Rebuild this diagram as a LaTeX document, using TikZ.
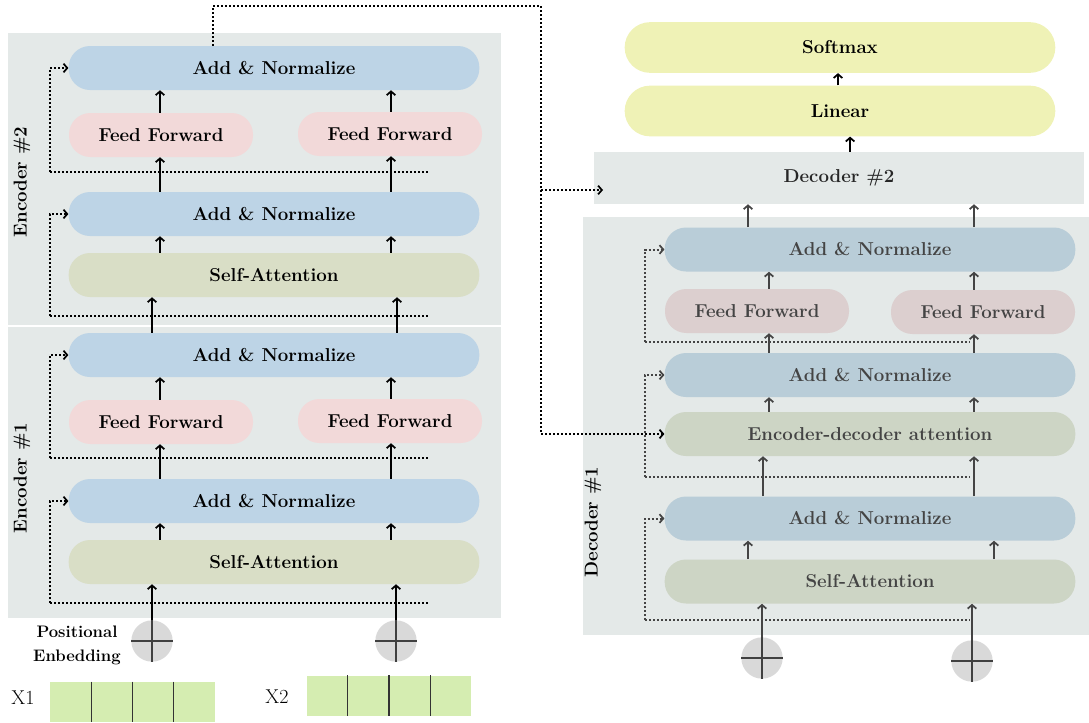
\documentclass[tikz,border=0pt]{standalone}
\usepackage{tikz}
\usetikzlibrary{arrows.meta, calc}
\definecolor{panelgray}{RGB}{228,233,232}
\definecolor{encblue}{RGB}{189,212,230}
\definecolor{encpink}{RGB}{242,217,217}
\definecolor{encgreen}{RGB}{217,222,198}
\definecolor{decblue}{RGB}{185,205,216}
\definecolor{decpink}{RGB}{220,207,207}
\definecolor{decgreen}{RGB}{205,213,197}
\definecolor{outyellow}{RGB}{239,242,182}
\definecolor{ingreen}{RGB}{213,237,177}
\definecolor{plusgray}{RGB}{217,217,217}
\definecolor{dectext}{RGB}{68,68,68}

\tikzset{
  blk/.style={rounded corners=16pt, inner sep=0pt, minimum height=33pt,
    font=\fontsize{14}{16}\selectfont\bfseries},
  wide/.style={blk, minimum width=308pt},
  half/.style={blk, minimum width=138pt},
  outblk/.style={blk, fill=outyellow, minimum width=323pt, minimum height=38pt, rounded corners=19pt},
  arr/.style={-{Straight Barb[length=2.8pt,width=6.5pt,line width=1.3pt]}, line width=1.4pt},
  res/.style={line width=1.5pt, dash pattern=on 1.5pt off 1.5pt},
  resarr/.style={res, -{Straight Barb[length=2.8pt,width=6.5pt,line width=1.3pt]}},
  plus/.style={circle, fill=plusgray, minimum size=31pt, inner sep=0pt},
  crossl/.style={line width=1pt, black!75},
  vec/.style={fill=ingreen, inner sep=0pt, minimum width=123.5pt, minimum height=30pt},
  tag/.style={rotate=90, font=\fontsize{14}{16}\selectfont\bfseries},
}

\begin{document}
\begin{tikzpicture}[x=0.75pt, y=-0.75pt]
\useasboundingbox (0,0) rectangle (1089,722);

% panels
\fill[panelgray] (8,33) rectangle (501,325);
\fill[panelgray] (8,327) rectangle (501,618);
\fill[panelgray] (583,217) rectangle (1089,635);

% columns
\coordinate (cL) at (160,0);
\coordinate (cLi) at (152,0);
\coordinate (cR) at (391,0);
\coordinate (cRi) at (397,0);
\coordinate (dL) at (769,0);
\coordinate (dLi) at (763,0);
\coordinate (dLo) at (748,0);
\coordinate (dR) at (974,0);
\coordinate (dRo) at (994,0);

% Encoder #2
\node[wide, fill=encblue] (e2an2) at (274,68) {Add \& Normalize};
\node[half, fill=encpink] (e2ffl) at (161,135) {Feed Forward};
\node[half, fill=encpink] (e2ffr) at (390,134) {Feed Forward};
\node[wide, fill=encblue] (e2an1) at (274,214) {Add \& Normalize};
\node[wide, fill=encgreen] (e2sa) at (274,275) {Self-Attention};
\node[tag] (e2tag) at (22,182) {Encoder \#2};

% Encoder #1
\node[wide, fill=encblue] (e1an2) at (274,355) {Add \& Normalize};
\node[half, fill=encpink] (e1ffl) at (161,422) {Feed Forward};
\node[half, fill=encpink] (e1ffr) at (390,421) {Feed Forward};
\node[wide, fill=encblue] (e1an1) at (274,501) {Add \& Normalize};
\node[wide, fill=encgreen] (e1sa) at (274,562) {Self-Attention};
\node[tag] (e1tag) at (22,478) {Encoder \#1};

% inputs
\node[plus] (pe1) at (152,641) {};
\node[plus] (pe2) at (396,641) {};
\node[align=center, font=\fontsize{12.5}{18}\selectfont\bfseries] (pos) at (77,645) {Positional\\Enbedding};
\node[font=\fontsize{15}{17}\selectfont] (x1lab) at (23,698) {X1};
\node[vec] (x1) at (132.5,702) {};
\node[font=\fontsize{15}{17}\selectfont] (x2lab) at (277,697) {X2};
\node[vec] (x2) at (389,695.5) {};
\foreach \v in {x1,x2}
  \foreach \i in {1,2,3}
    \draw[line width=1pt, black!80] ($(\v.north west)!\i/4!(\v.north east)$) -- ($(\v.south west)!\i/4!(\v.south east)$);

% Decoder #1
\node[wide, fill=decblue, text=dectext] (d1an3) at (870,249.5) {Add \& Normalize};
\node[half, fill=decpink, text=dectext] (d1ffl) at (757,311) {Feed Forward};
\node[half, fill=decpink, text=dectext] (d1ffr) at (983,312) {Feed Forward};
\node[wide, fill=decblue, text=dectext] (d1an2) at (870,375) {Add \& Normalize};
\node[wide, fill=decgreen, text=dectext] (d1eda) at (870,434) {Encoder-decoder attention};
\node[wide, fill=decblue, text=dectext] (d1an1) at (870,518.5) {Add \& Normalize};
\node[wide, fill=decgreen, text=dectext] (d1sa) at (870,581.5) {Self-Attention};
\node[tag] (d1tag) at (593,522) {Decoder \#1};
\node[plus] (dp1) at (762,658) {};
\node[plus] (dp2) at (972,661) {};

% Decoder #2 and output
\node[fill=panelgray, inner sep=0pt, minimum width=367.5pt, minimum height=39pt,
  font=\fontsize{14}{16}\selectfont\bfseries, text=black!85] (dec2) at (839,178) {Decoder \#2};
\node[outblk] (lin) at (840,111) {Linear};
\node[outblk] (soft) at (840,47.5) {Softmax};

% plus signs
\foreach \p in {pe1,pe2,dp1,dp2}
  \draw[crossl] (\p.north) -- (\p.south) (\p.west) -- (\p.east);

% residual paths, encoder
\coordinate (rend) at (430,0);
\coordinate (r1) at (50,172);
\coordinate (r2) at (50,316);
\coordinate (r3) at (50,458);
\coordinate (r4) at (50,603);
\draw[resarr] (r1) |- (e2an2.west);
\draw[resarr] (r2) |- (e2an1.west);
\draw[resarr] (r3) |- (e1an2.west);
\draw[resarr] (r4) |- (e1an1.west);
\draw[res] (r1) -- (r1 -| rend);
\draw[res] (r2) -- (r2 -| rend);
\draw[res] (r3) -- (r3 -| rend);
\draw[res] (r4) -- (r4 -| rend);

% residual paths, decoder
\coordinate (send) at (970,0);
\coordinate (s1) at (645,342);
\coordinate (s2) at (645,477);
\coordinate (s3) at (645,620);
\begin{scope}[dectext]
\draw[resarr] (s1) |- (d1an3.west);
\draw[resarr] (s2) |- (d1an2.west);
\draw[resarr] (s3) |- (d1an1.west);
\draw[res] (s1) -- (s1 -| send);
\draw[res] (s2) -- (s2 -| send);
\draw[res] (s3) -- (s3 -| send);
\end{scope}

% encoder output to decoders
\coordinate (tap) at (213,6);
\coordinate (bus) at (541,6);
\coordinate (br) at (541,190);
\coordinate (d2in) at (603,190);
\draw[resarr] (e2an2.north -| tap) -- (tap) -- (bus) |- (d1eda.west);
\draw[resarr] (br) -- (d2in);

% encoder arrows
\draw[arr] (e2ffl.north -| cL) -- (e2an2.south -| cL);
\draw[arr] (e2ffr.north -| cR) -- (e2an2.south -| cR);
\draw[arr] (e2an1.north -| cL) -- (e2ffl.south -| cL);
\draw[arr] (e2an1.north -| cR) -- (e2ffr.south -| cR);
\draw[arr] (e2sa.north -| cL) -- (e2an1.south -| cL);
\draw[arr] (e2sa.north -| cR) -- (e2an1.south -| cR);
\draw[arr] (e1an2.north -| cLi) -- (e2sa.south -| cLi);
\draw[arr] (e1an2.north -| cRi) -- (e2sa.south -| cRi);
\draw[arr] (e1ffl.north -| cL) -- (e1an2.south -| cL);
\draw[arr] (e1ffr.north -| cR) -- (e1an2.south -| cR);
\draw[arr] (e1an1.north -| cL) -- (e1ffl.south -| cL);
\draw[arr] (e1an1.north -| cR) -- (e1ffr.south -| cR);
\draw[arr] (e1sa.north -| cL) -- (e1an1.south -| cL);
\draw[arr] (e1sa.north -| cR) -- (e1an1.south -| cR);
\draw[arr] (pe1.north) -- (e1sa.south -| pe1);
\draw[arr] (pe2.north) -- (e1sa.south -| pe2);

% decoder arrows
\begin{scope}[dectext]
\draw[arr] (d1an3.north -| dLo) -- (dec2.south -| dLo);
\draw[arr] (d1an3.north -| dR) -- (dec2.south -| dR);
\draw[arr] (d1ffl.north -| dL) -- (d1an3.south -| dL);
\draw[arr] (d1ffr.north -| dR) -- (d1an3.south -| dR);
\draw[arr] (d1an2.north -| dL) -- (d1ffl.south -| dL);
\draw[arr] (d1an2.north -| dR) -- (d1ffr.south -| dR);
\draw[arr] (d1eda.north -| dL) -- (d1an2.south -| dL);
\draw[arr] (d1eda.north -| dR) -- (d1an2.south -| dR);
\draw[arr] (d1an1.north -| dLi) -- (d1eda.south -| dLi);
\draw[arr] (d1an1.north -| dR) -- (d1eda.south -| dR);
\draw[arr] (d1sa.north -| dLo) -- (d1an1.south -| dLo);
\draw[arr] (d1sa.north -| dRo) -- (d1an1.south -| dRo);
\draw[arr] (dp1.north) -- (d1sa.south -| dp1);
\draw[arr] (dp2.north) -- (d1sa.south -| dp2);
\end{scope}

% output arrows
\draw[arr] ([xshift=8.3pt]dec2.north) -- ([xshift=8.3pt]dec2.north |- lin.south);
\draw[arr] ([xshift=-1.5pt]lin.north) -- ([xshift=-1.5pt]lin.north |- soft.south);
\end{tikzpicture}
\end{document}
